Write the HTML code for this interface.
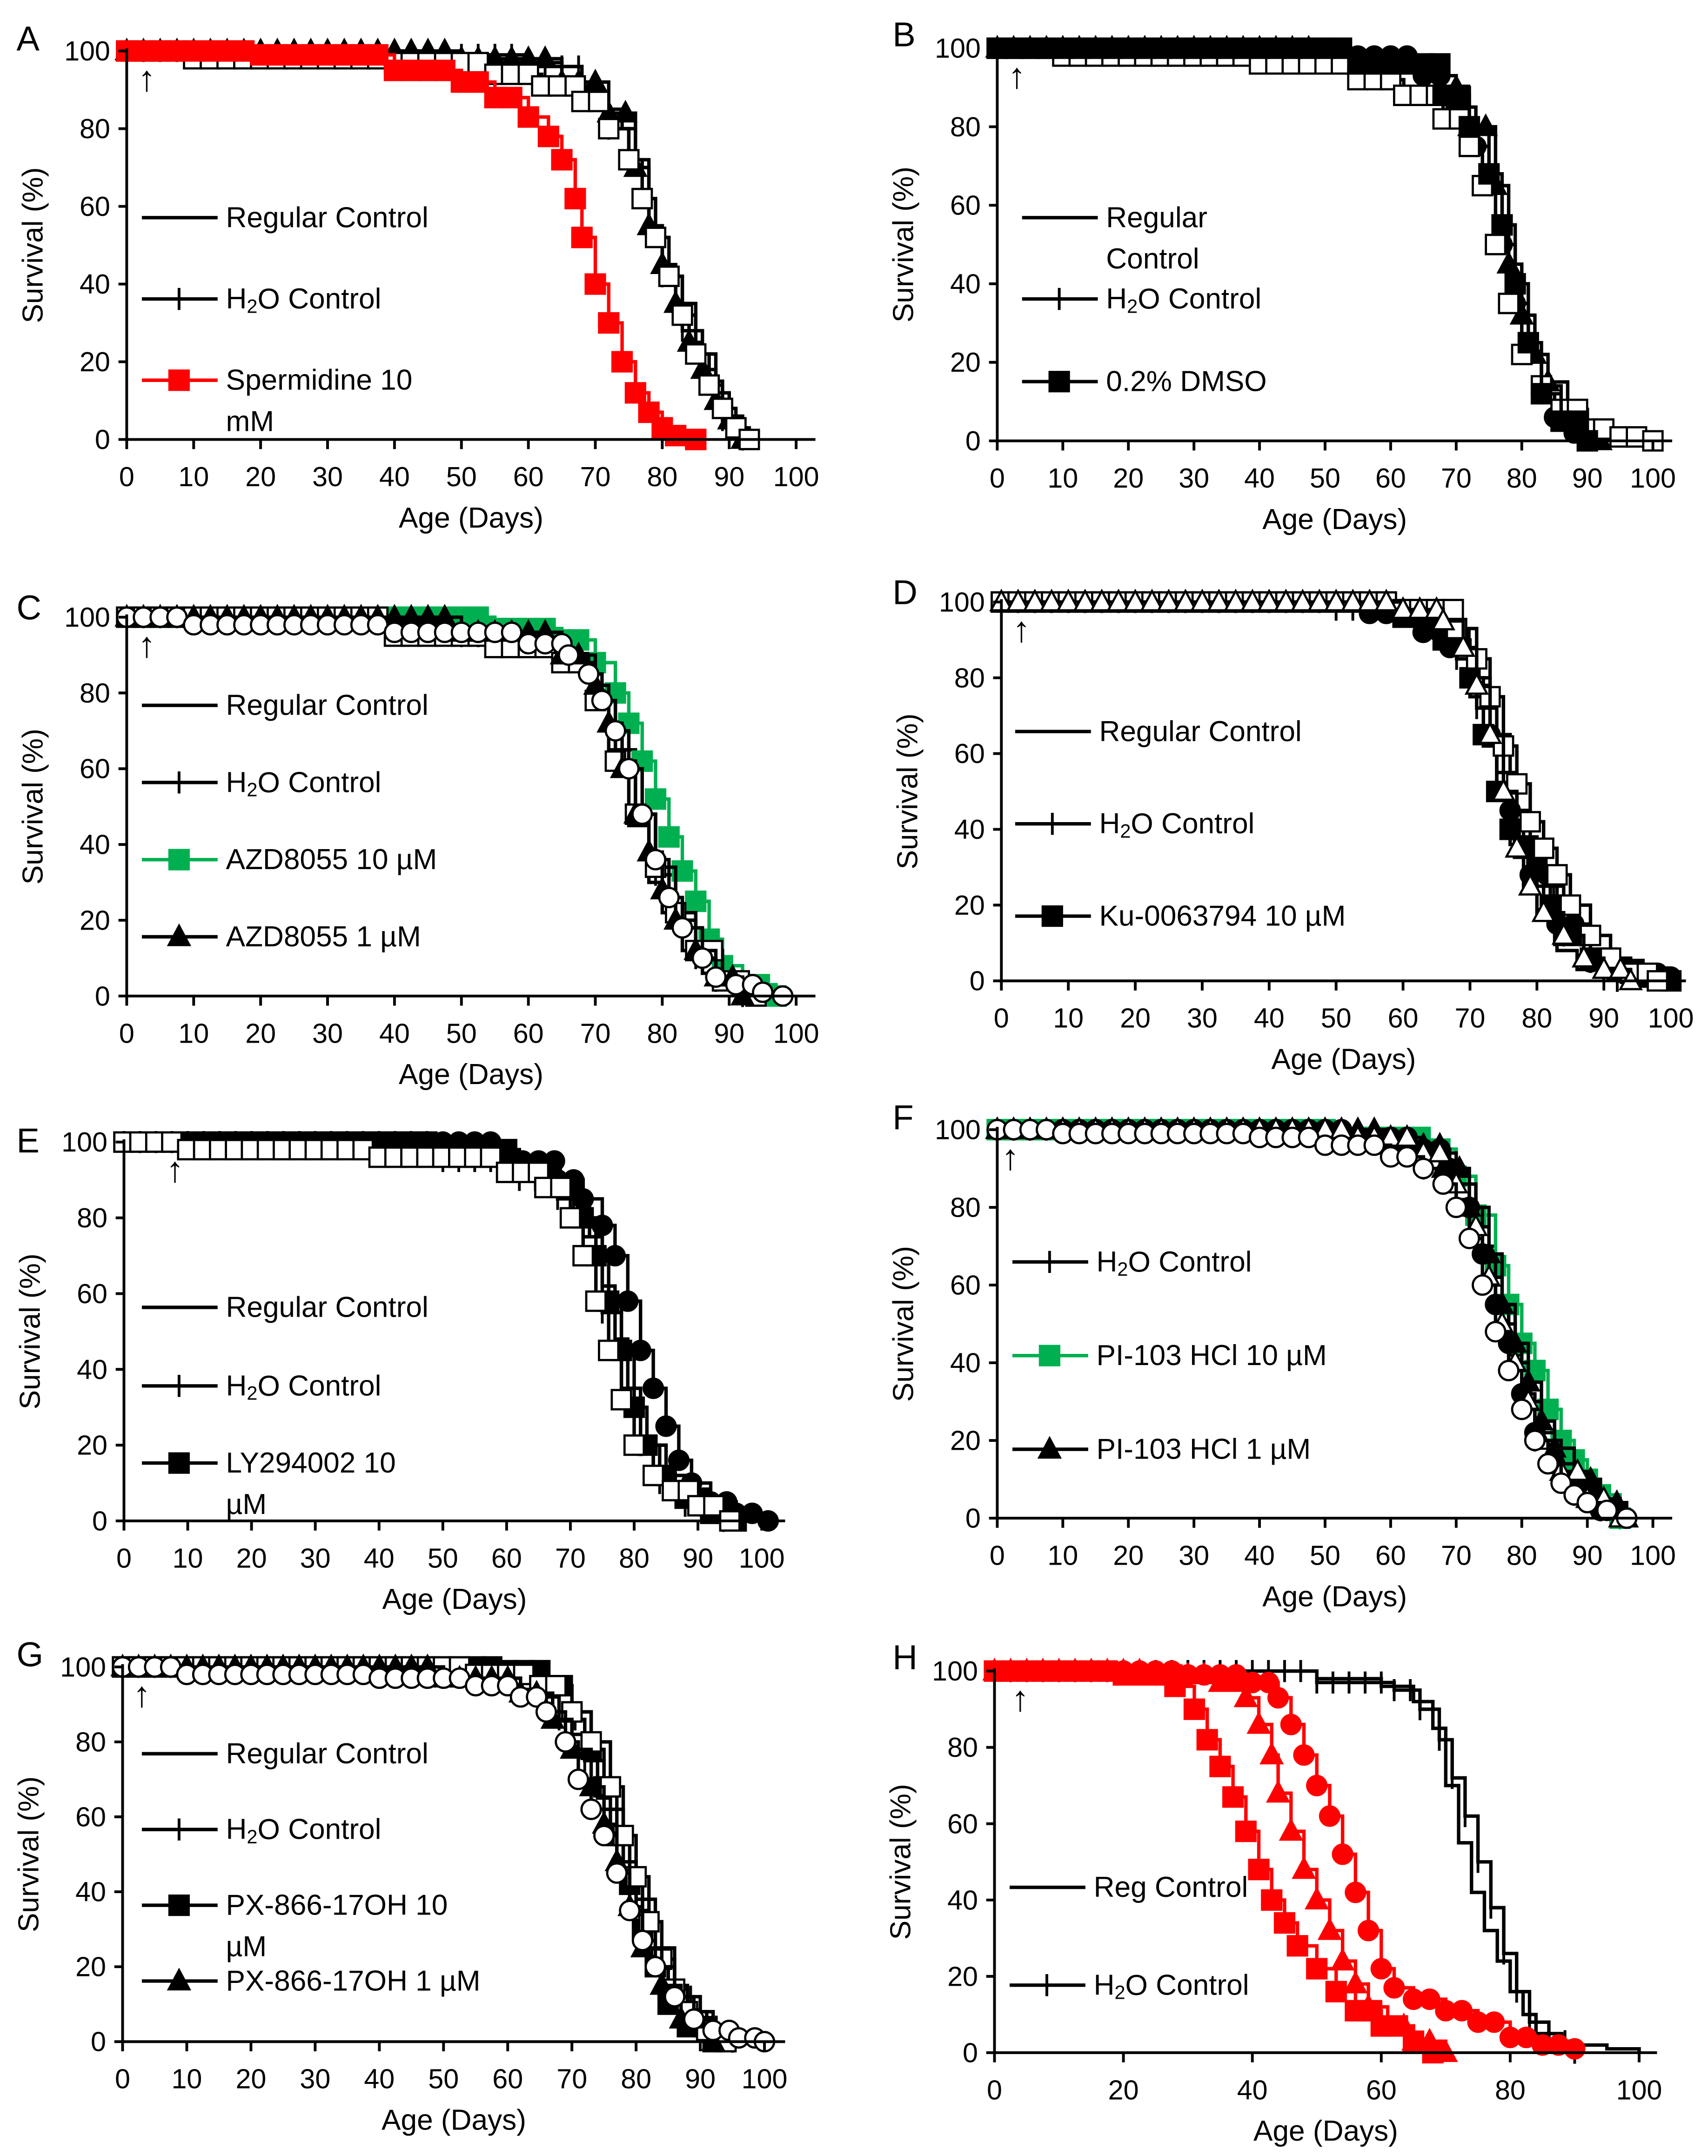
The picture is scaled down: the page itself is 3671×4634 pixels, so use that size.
<!DOCTYPE html>
<html><head><meta charset="utf-8"><style>
html,body{margin:0;padding:0;background:#fff}
svg{display:block}
text{font-family:"Liberation Sans",sans-serif;fill:#000}
</style></head><body>
<svg id="fig" xmlns="http://www.w3.org/2000/svg" width="3671" height="4634" viewBox="0 0 1240 1565" preserveAspectRatio="none"></svg>
<script>
// ---- data (day, survival %) ----
const A_reg_d=[0,40,55,65,70,74,76,78,80,82,85,88,90,92,94], A_reg_s=[100,99,97,92,85,80,70,55,45,35,22,12,6,2,0];
const A_h2o_d=[0,45,60,68,72,75,78,80,83,86,89,92], A_h2o_s=[100,99,96,88,80,72,55,42,28,15,5,0];
const A_spd_d=[0,20,40,50,55,60,63,65,67,68,70,72,74,76,78,80,82,85], A_spd_s=[100,99,95,92,88,83,78,72,62,52,40,30,20,12,7,3,1,0];
const A_sqw_d=[0,10,40,55,62,68,72,75,77,79,81,83,85,87,89,91,93], A_sqw_s=[100,98,97,94,91,87,80,72,62,52,42,32,22,14,8,3,0];
const A_tri_d=[0,50,65,72,76,78,80,82,84,86,88,90,92], A_tri_s=[100,98,92,84,70,55,45,35,25,18,10,5,0];

const B_reg_d=[0,50,65,70,73,75,77,79,81,83,85,88,90], B_reg_s=[100,98,93,85,75,65,50,35,22,12,6,2,0];
const B_h2o_d=[0,50,65,72,76,78,80,82,84,87,90,92], B_h2o_s=[100,97,90,80,65,45,32,22,15,8,3,0];
const B_dmso_d=[0,55,68,72,75,77,79,81,83,86,90], B_dmso_s=[100,96,88,80,68,55,40,25,12,5,0];
const B_sqw_d=[0,10,40,55,62,68,72,74,76,78,80,83,86,90,95,100], B_sqw_s=[100,98,96,92,88,82,75,65,50,35,22,14,8,3,1,0];

const C_reg_d=[0,40,60,68,70,72,75,78,80,83,86,90,95], C_reg_s=[100,96,93,88,80,65,45,30,22,12,6,2,0];
const C_h2o_d=[0,50,65,70,73,76,79,82,85,88,92], C_h2o_s=[100,95,90,82,65,48,32,20,10,4,0];
const C_g10_d=[0,20,55,65,70,73,75,77,79,81,83,85,87,89,92,97], C_g10_s=[100,100,97,94,88,80,72,62,52,42,33,25,15,8,3,0];
const C_a1_d=[0,50,65,70,72,74,76,78,80,82,85,88,92], C_a1_s=[100,96,90,82,72,60,48,38,28,20,12,5,0];
const C_cw_d=[0,10,40,60,66,69,71,73,75,77,79,81,83,86,88,91,95,98], C_cw_s=[100,98,96,93,90,85,78,70,60,48,36,26,18,10,5,3,1,0];
const C_sqw_d=[0,40,55,65,70,73,76,79,82,85,89,94], C_sqw_s=[100,95,92,88,78,62,48,34,22,12,4,0];

const D_reg_d=[0,40,60,65,68,70,72,74,76,78,80,83,86,90], D_reg_s=[100,99,96,90,85,75,62,48,36,25,16,8,3,0];
const D_h2o_d=[0,50,62,68,71,74,77,80,84,88,92], D_h2o_s=[100,98,94,85,72,55,38,25,12,5,0];
const D_ku_d=[0,60,66,70,72,74,76,78,80,82,84,88,92,96,100], D_ku_s=[100,96,90,80,65,50,40,35,30,20,12,6,3,1,0];
const D_sqw_d=[0,60,68,71,73,75,77,79,81,83,85,88,91,94,98], D_sqw_s=[100,98,93,85,75,62,52,42,35,28,20,12,6,2,0];
const D_tw_d=[0,60,66,69,71,73,75,77,79,81,84,87,90,94], D_tw_s=[100,98,95,88,78,65,50,35,25,18,12,6,3,0];
const D_cb_d=[0,55,63,67,70,73,76,79,83,88,93,100], D_cb_s=[100,97,92,88,80,65,45,28,15,5,2,1];

const E_reg_d=[0,20,40,55,65,70,73,75,77,79,81,83,86,90,95], E_reg_s=[100,98,96,94,90,85,75,62,48,35,22,14,7,3,0];
const E_h2o_d=[0,50,62,68,72,75,78,81,84,88,94], E_h2o_s=[100,95,90,85,75,55,35,20,10,4,0];
const E_ly_d=[0,50,62,68,72,74,76,78,80,82,85,88,92,96], E_ly_s=[100,98,93,88,80,70,58,45,30,20,12,6,2,0];
const E_sqw_d=[0,10,40,60,66,70,72,74,76,78,80,83,86,90,95], E_sqw_s=[100,98,96,92,88,80,70,58,45,32,20,12,8,4,0];
const E_cb_d=[0,60,68,72,75,77,79,81,83,85,87,89,92,96,101], E_cb_s=[100,95,90,85,78,70,58,45,35,25,16,10,5,2,0];

const F_h2o_d=[0,50,60,65,70,73,76,78,80,82,85,88,92,95], F_h2o_s=[100,98,95,90,82,70,55,42,30,20,12,6,2,0];
const F_g10_d=[0,52,65,70,73,76,78,80,82,84,86,88,90,92,95], F_g10_s=[100,98,95,88,78,65,55,45,38,28,20,15,10,6,0];
const F_t1_d=[0,60,68,72,75,77,79,81,83,85,88,92,96], F_t1_s=[100,96,90,80,68,55,45,35,25,18,10,4,0];
const F_cw_d=[0,10,40,50,60,65,68,70,72,74,76,78,80,82,84,86,88,90,93,96], F_cw_s=[100,99,98,96,93,90,86,80,72,60,48,38,28,20,14,9,6,4,2,0];
const F_tw_d=[0,55,65,70,73,75,77,79,81,83,86,90,95], F_tw_s=[100,98,94,86,75,62,50,40,30,20,12,5,0];
const F_cb_d=[0,55,65,69,72,74,76,78,80,82,85,88,92,96], F_cb_s=[100,98,95,90,80,68,55,45,32,22,14,6,2,0];

const G_reg_d=[0,40,60,65,68,70,72,74,76,78,80,82,85,88,92,96], G_reg_s=[100,99,96,92,88,82,75,65,55,45,35,25,15,8,3,0];
const G_h2o_d=[0,50,62,68,72,75,78,80,83,86,90,95], G_h2o_s=[100,98,94,86,75,62,48,38,25,12,4,0];
const G_px10_d=[0,60,66,70,73,75,77,79,81,83,85,88,92], G_px10_s=[100,99,95,88,78,68,55,42,30,20,10,4,0];
const G_px1_d=[0,50,62,67,70,73,75,77,79,81,84,87,92], G_px1_s=[100,97,93,86,78,68,58,48,36,25,15,6,0];
const G_cw_d=[0,10,40,55,62,66,69,71,73,75,77,79,81,83,86,89,92,96,100], G_cw_s=[100,98,97,95,92,88,80,70,62,55,45,35,27,20,12,6,3,1,0];
const G_sqw_d=[0,55,65,70,73,76,78,80,82,84,86,88,91,94], G_sqw_s=[100,98,95,88,80,68,55,44,32,22,14,8,3,0];

const H_reg_d=[0,50,60,65,68,70,72,74,76,78,80,82,84,88,95,100], H_reg_s=[100,98,96,92,85,70,55,42,32,24,16,10,5,2,1,0];
const H_h2o_d=[0,50,62,66,69,71,73,75,77,79,81,83,86,90], H_h2o_s=[100,97,95,90,82,72,62,50,38,26,16,8,3,0];
const H_rsq_d=[0,20,28,31,33,35,37,39,41,43,45,47,50,53,56,60,65,68], H_rsq_s=[100,99,96,90,82,75,67,58,48,40,34,28,22,16,11,7,3,0];
const H_rtr_d=[0,25,35,39,41,43,44,46,48,50,52,54,56,58,61,65,70], H_rtr_s=[100,99,97,93,86,78,68,58,48,40,32,24,18,12,7,3,0];
const H_rci_d=[0,30,40,44,46,48,50,52,54,56,58,60,62,65,70,75,80,85,90], H_rci_s=[100,99,97,93,86,78,70,62,52,42,32,22,17,14,11,8,4,2,1];

const xTicks10=[0,10,20,30,40,50,60,70,80,90,100];
const xTicks20=[0,20,40,60,80,100];
const yTicks=[0,20,40,60,80,100];

const NS="http://www.w3.org/2000/svg";
const svg=document.getElementById('fig');
function mk(tag,attrs,parent){const e=document.createElementNS(NS,tag);for(const k in attrs)e.setAttribute(k,attrs[k]);(parent||svg).appendChild(e);return e;}
function txt(s,x,y,size,anchor,parent){const t=mk('text',{x:x,y:y,'font-size':size,'text-anchor':anchor||'start','dominant-baseline':'central'},parent);t.textContent=s;return t;}

function marker(type,x,y,g){
  const col=type.endsWith('R')?'#ff0000':type.endsWith('G')?'#00b050':'#000';
  const fill=type.endsWith('W')?'#fff':col;
  const st=type.endsWith('W')?'#000':col;
  let e;
  if(type.startsWith('sq')) e=mk('rect',{x:x-7,y:y-7,width:14,height:14,fill:fill,stroke:st,'stroke-width':1.6},g);
  else if(type.startsWith('tri')) e=mk('polygon',{points:`${x},${y-8} ${x-7.5},${y+6} ${x+7.5},${y+6}`,fill:fill,stroke:st,'stroke-width':1.6},g);
  else if(type.startsWith('ci')) e=mk('circle',{cx:x,cy:y,r:7,fill:fill,stroke:st,'stroke-width':1.6},g);
  else if(type==='plus') e=mk('line',{x1:x,y1:y-8,x2:x,y2:y+8,stroke:'#000','stroke-width':2},g);
  if(e){}
}
function lineColor(type){return type.endsWith('R')?'#ff0000':type.endsWith('G')?'#00b050':'#000';}

function panel(p){
  const g=mk('g',{});
  
  
  const X=d=>p.x0+(p.x1-p.x0)*d/100, Y=s=>p.y0-(p.y0-p.y1)*s/100;
  p.series.forEach(se=>{
    const sg=mk('g',{},g);
    
    
    let d=`M${X(se.d[0])},${Y(se.s[0])}`;
    for(let i=1;i<se.d.length;i++){d+=` H${X(se.d[i])} V${Y(se.s[i])}`;}
    mk('path',{d:d,fill:'none',stroke:lineColor(se.m),'stroke-width':2.5},sg);
    if(se.m!=='none'){
      for(let i=0;i<se.d.length;i++){
        marker(se.m,X(se.d[i]),Y(se.s[i]),sg);
        if(i<se.d.length-1 && se.d[i+1]-se.d[i]>3){
          for(let dd=se.d[i]+2.5;dd<se.d[i+1];dd+=2.5) marker(se.m,X(dd),Y(se.s[i]),sg);
        }
      }
    }
  });
  const ax=mk('g',{},g);
  mk('line',{x1:p.x0,y1:p.y0,x2:p.xe,y2:p.y0,stroke:'#000','stroke-width':2},ax);
  mk('line',{x1:p.x0,y1:p.y0,x2:p.x0,y2:p.y1-2,stroke:'#000','stroke-width':2},ax);
  p.xt.forEach(v=>{mk('line',{x1:X(v),y1:p.y0,x2:X(v),y2:p.y0+7,stroke:'#000','stroke-width':2},ax);
    const t=txt(String(v),X(v),p.y0+27,20,'middle',ax);});
  yTicks.forEach(v=>{mk('line',{x1:p.x0-6,y1:Y(v),x2:p.x0,y2:Y(v),stroke:'#000','stroke-width':2},ax);
    const t=txt(String(v),p.x0-12,Y(v),20,'end',ax);});
  const xt=txt('Age (Days)',(p.x0+p.xe)/2,p.y0+57,21,'middle',g);
  const yc=(p.y0+p.y1)/2, yx=p.x0-68;
  const yt=mk('text',{x:yx,y:yc,'font-size':21,'text-anchor':'middle','dominant-baseline':'central',transform:`rotate(-90 ${yx} ${yc})`},g);
  yt.textContent='Survival (%)';
  const lt=txt(p.id,p.lx,p.ly+3,25,'start',g);
  const ar=txt('↑',X(p.arrow),p.y1+20,26,'middle',g);
  p.legend.forEach(L=>{
    const lg=mk('g',{},g);
    mk('line',{x1:p.lgx,y1:L.y,x2:p.lgx+55,y2:L.y,stroke:lineColor(L.m),'stroke-width':2.5},lg);
    if(L.m!=='none') marker(L.m,p.lgx+27,L.y,lg);
    L.t.forEach((s,i)=>{
      const t=mk('text',{x:p.lgx+61,y:L.y+30*i,'font-size':21,'dominant-baseline':'central'},lg);
      if(s.indexOf('H2O')>=0){t.innerHTML=s.replace('H2O','H<tspan font-size="14" dy="5">2</tspan><tspan dy="-5">O</tspan>');}
      else t.textContent=s;
    });
  });
}

panel({id:'A',x0:92,x1:578,xe:592,y0:319,y1:37,xt:xTicks10,lx:12,ly:25,arrow:3,lgx:103,
 series:[{name:'regular-control',d:A_reg_d,s:A_reg_s,m:'none'},{name:'h2o-control',d:A_h2o_d,s:A_h2o_s,m:'plus'},
 {name:'triangles',d:A_tri_d,s:A_tri_s,m:'triB'},{name:'open-squares',d:A_sqw_d,s:A_sqw_s,m:'sqW'},{name:'spermidine-10mm',d:A_spd_d,s:A_spd_s,m:'sqR'}],
 legend:[{y:158,m:'none',t:['Regular Control']},{y:217,m:'plus',t:['H2O Control']},{y:276,m:'sqR',t:['Spermidine 10','mM']}]});
panel({id:'B',x0:724,x1:1200,xe:1214,y0:320,y1:35,xt:xTicks10,lx:648,ly:22,arrow:3,lgx:742,
 series:[{name:'regular-control',d:B_reg_d,s:B_reg_s,m:'ciB'},{name:'h2o-control',d:B_h2o_d,s:B_h2o_s,m:'triB'},
 {name:'open-squares',d:B_sqw_d,s:B_sqw_s,m:'sqW'},{name:'dmso',d:B_dmso_d,s:B_dmso_s,m:'sqB'}],
 legend:[{y:158,m:'none',t:['Regular','Control']},{y:217,m:'plus',t:['H2O Control']},{y:277,m:'sqB',t:['0.2% DMSO']}]});
panel({id:'C',x0:92,x1:578,xe:592,y0:723,y1:448,xt:xTicks10,lx:12,ly:438,arrow:3,lgx:103,
 series:[{name:'regular-control',d:C_reg_d,s:C_reg_s,m:'none'},{name:'h2o-control',d:C_h2o_d,s:C_h2o_s,m:'plus'},
 {name:'azd-10',d:C_g10_d,s:C_g10_s,m:'sqG'},{name:'open-squares',d:C_sqw_d,s:C_sqw_s,m:'sqW'},{name:'azd-1',d:C_a1_d,s:C_a1_s,m:'triB'},{name:'open-circles',d:C_cw_d,s:C_cw_s,m:'ciW'}],
 legend:[{y:512,m:'none',t:['Regular Control']},{y:568,m:'plus',t:['H2O Control']},{y:624,m:'sqG',t:['AZD8055 10 µM']},{y:680,m:'triB',t:['AZD8055 1 µM']}]});
panel({id:'D',x0:727,x1:1213,xe:1224,y0:712,y1:437,xt:xTicks10,lx:648,ly:427,arrow:3,lgx:737,
 series:[{name:'regular-control',d:D_reg_d,s:D_reg_s,m:'none'},{name:'h2o-control',d:D_h2o_d,s:D_h2o_s,m:'plus'},
 {name:'black-circles',d:D_cb_d,s:D_cb_s,m:'ciB'},{name:'ku-10',d:D_ku_d,s:D_ku_s,m:'sqB'},{name:'open-squares',d:D_sqw_d,s:D_sqw_s,m:'sqW'},{name:'open-triangles',d:D_tw_d,s:D_tw_s,m:'triW'}],
 legend:[{y:531,m:'none',t:['Regular Control']},{y:598,m:'plus',t:['H2O Control']},{y:665,m:'sqB',t:['Ku-0063794 10 µM']}]});
panel({id:'E',x0:90,x1:553,xe:570,y0:1104,y1:829,xt:xTicks10,lx:12,ly:825,arrow:8,lgx:103,
 series:[{name:'regular-control',d:E_reg_d,s:E_reg_s,m:'none'},{name:'h2o-control',d:E_h2o_d,s:E_h2o_s,m:'plus'},
 {name:'black-circles',d:E_cb_d,s:E_cb_s,m:'ciB'},{name:'ly-10',d:E_ly_d,s:E_ly_s,m:'sqB'},{name:'open-squares',d:E_sqw_d,s:E_sqw_s,m:'sqW'}],
 legend:[{y:949,m:'none',t:['Regular Control']},{y:1006,m:'plus',t:['H2O Control']},{y:1062,m:'sqB',t:['LY294002 10','µM']}]});
panel({id:'F',x0:724,x1:1200,xe:1214,y0:1102,y1:820,xt:xTicks10,lx:648,ly:808,arrow:2,lgx:735,
 series:[{name:'h2o-control',d:F_h2o_d,s:F_h2o_s,m:'plus'},{name:'pi103-10',d:F_g10_d,s:F_g10_s,m:'sqG'},{name:'black-circles',d:F_cb_d,s:F_cb_s,m:'ciB'},
 {name:'pi103-1',d:F_t1_d,s:F_t1_s,m:'triB'},{name:'open-triangles',d:F_tw_d,s:F_tw_s,m:'triW'},{name:'open-circles',d:F_cw_d,s:F_cw_s,m:'ciW'}],
 legend:[{y:916,m:'plus',t:['H2O Control']},{y:984,m:'sqG',t:['PI-103 HCl 10 µM']},{y:1052,m:'triB',t:['PI-103 HCl 1 µM']}]});
panel({id:'G',x0:89,x1:555,xe:570,y0:1482,y1:1210,xt:xTicks10,lx:12,ly:1198,arrow:3,lgx:103,
 series:[{name:'regular-control',d:G_reg_d,s:G_reg_s,m:'none'},{name:'h2o-control',d:G_h2o_d,s:G_h2o_s,m:'plus'},
 {name:'px-10',d:G_px10_d,s:G_px10_s,m:'sqB'},{name:'open-squares',d:G_sqw_d,s:G_sqw_s,m:'sqW'},{name:'px-1',d:G_px1_d,s:G_px1_s,m:'triB'},{name:'open-circles',d:G_cw_d,s:G_cw_s,m:'ciW'}],
 legend:[{y:1273,m:'none',t:['Regular Control']},{y:1328,m:'plus',t:['H2O Control']},{y:1383,m:'sqB',t:['PX-866-17OH 10','µM']},{y:1438,m:'triB',t:['PX-866-17OH 1 µM']}]});
panel({id:'H',x0:722,x1:1190,xe:1203,y0:1490,y1:1213,xt:xTicks20,lx:648,ly:1200,arrow:4,lgx:733,
 series:[{name:'regular-control',d:H_reg_d,s:H_reg_s,m:'none'},{name:'h2o-control',d:H_h2o_d,s:H_h2o_s,m:'plus'},
 {name:'red-squares',d:H_rsq_d,s:H_rsq_s,m:'sqR'},{name:'red-triangles',d:H_rtr_d,s:H_rtr_s,m:'triR'},{name:'red-circles',d:H_rci_d,s:H_rci_s,m:'ciR'}],
 legend:[{y:1370,m:'none',t:['Reg Control']},{y:1441,m:'plus',t:['H2O Control']}]});
</script>
</body></html>
